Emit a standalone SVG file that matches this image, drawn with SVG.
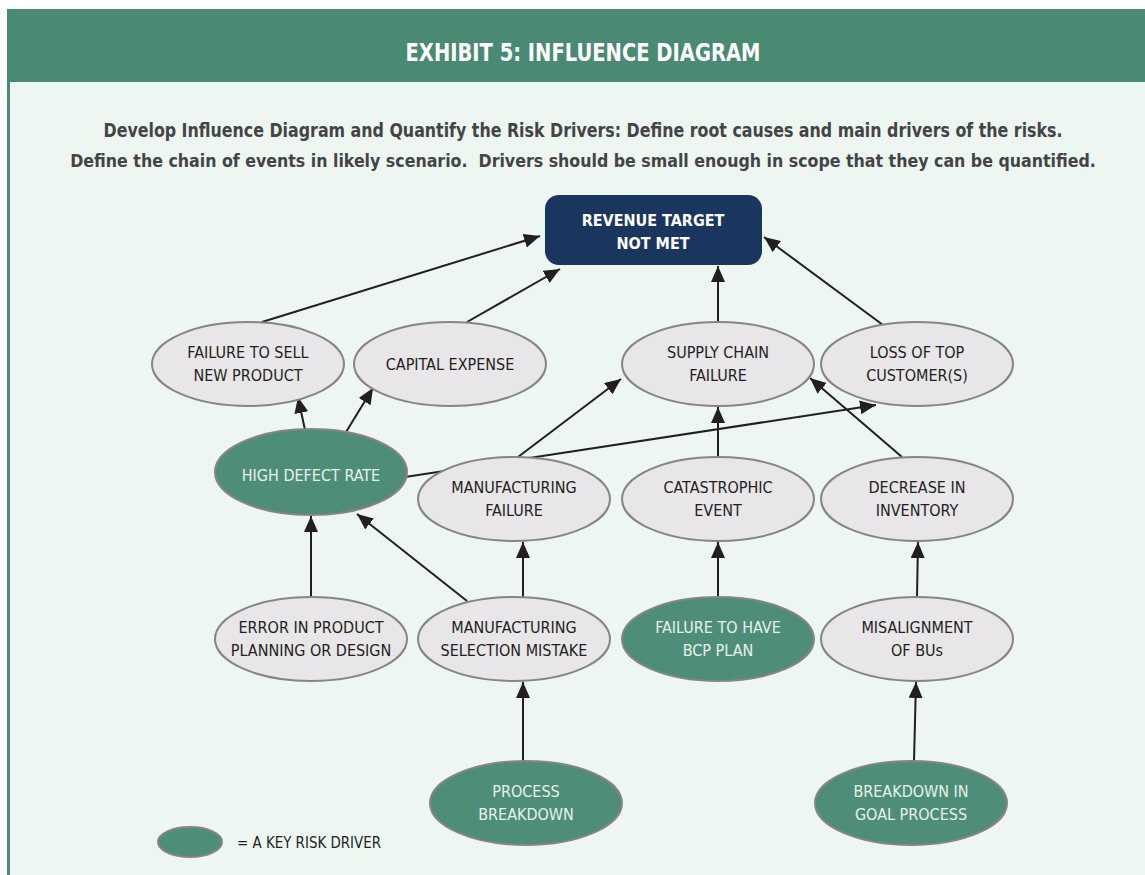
<svg xmlns="http://www.w3.org/2000/svg" width="1145" height="875" viewBox="0 0 1145 875">
<defs>
<style>
.nd{fill:#E8E6E8;stroke:#858585;stroke-width:2}
.key{fill:#4E8E78;stroke:#858585;stroke-width:2}
.t{font-family:"DejaVu Sans Condensed","DejaVu Sans",sans-serif;font-size:16px;fill:#231F20;text-anchor:middle}
.tk{font-family:"DejaVu Sans Condensed","DejaVu Sans",sans-serif;font-size:16px;fill:#E6F2EC;text-anchor:middle}
.e{stroke:#231F20;stroke-width:2;fill:none;marker-end:url(#ah)}
</style>
<marker id="ah" markerUnits="userSpaceOnUse" markerWidth="18" markerHeight="16" refX="16" refY="7" orient="auto">
<path d="M0,0 L16,7 L0,14 z" fill="#231F20"/>
</marker>
</defs>
<rect width="1145" height="875" fill="#FFFFFF"/>
<rect x="7" y="9" width="1138" height="866" fill="#EDF6F1"/>
<rect x="7" y="82" width="3" height="793" fill="#4A8A72"/>
<rect x="7" y="9" width="1138" height="73" fill="#4A8A72"/>
<text x="583" y="61" font-family="DejaVu Sans Condensed,DejaVu Sans,sans-serif" font-size="25" font-weight="bold" fill="#FFFFFF" text-anchor="middle" textLength="355" lengthAdjust="spacingAndGlyphs">EXHIBIT 5: INFLUENCE DIAGRAM</text>
<text x="583" y="137" font-family="DejaVu Sans Condensed,DejaVu Sans,sans-serif" font-size="19" font-weight="bold" fill="#444446" text-anchor="middle" textLength="959" lengthAdjust="spacingAndGlyphs">Develop Influence Diagram and Quantify the Risk Drivers: Define root causes and main drivers of the risks.</text>
<text x="583" y="167" font-family="DejaVu Sans Condensed,DejaVu Sans,sans-serif" font-size="17.6" font-weight="bold" fill="#444446" text-anchor="middle" xml:space="preserve">Define the chain of events in likely scenario.  Drivers should be small enough in scope that they can be quantified.</text>

<g id="connectors">
<line class="e" x1="262" y1="322" x2="540" y2="236"/>
<line class="e" x1="467" y1="322" x2="560" y2="269"/>
<line class="e" x1="718" y1="322" x2="718" y2="266"/>
<line class="e" x1="883" y1="325" x2="764" y2="237"/>
<line class="e" x1="305" y1="430" x2="298" y2="397"/>
<line class="e" x1="346" y1="432" x2="373" y2="388"/>
<line class="e" x1="405" y1="477" x2="876" y2="405"/>
<line class="e" x1="518" y1="457" x2="621" y2="379"/>
<line class="e" x1="718" y1="457" x2="718" y2="407"/>
<line class="e" x1="902" y1="457" x2="810" y2="378"/>
<line class="e" x1="311" y1="597" x2="311" y2="516"/>
<line class="e" x1="467" y1="601" x2="357" y2="514"/>
<line class="e" x1="523" y1="597" x2="523" y2="542"/>
<line class="e" x1="718" y1="597" x2="718" y2="542"/>
<line class="e" x1="917" y1="597" x2="918" y2="542"/>
<line class="e" x1="523" y1="761" x2="523" y2="682"/>
<line class="e" x1="914" y1="761" x2="916" y2="682"/>
</g>

<g id="revenue">
<rect x="545" y="195" width="217" height="70" rx="14" fill="#1A365E"/>
<text x="653" y="226" font-family="DejaVu Sans Condensed,DejaVu Sans,sans-serif" font-size="16" font-weight="bold" fill="#FFFFFF" text-anchor="middle">REVENUE TARGET</text>
<text x="653" y="249" font-family="DejaVu Sans Condensed,DejaVu Sans,sans-serif" font-size="16" font-weight="bold" fill="#FFFFFF" text-anchor="middle">NOT MET</text>
</g>
<g id="failure-to-sell">
<ellipse class="nd" cx="248" cy="364" rx="96" ry="42"/>
<text class="t" x="248" y="358">FAILURE TO SELL</text>
<text class="t" x="248" y="381">NEW PRODUCT</text>
</g>
<g id="capital-expense">
<ellipse class="nd" cx="450" cy="364" rx="96" ry="42"/>
<text class="t" x="450" y="370">CAPITAL EXPENSE</text>
</g>
<g id="supply-chain">
<ellipse class="nd" cx="718" cy="364" rx="96" ry="42"/>
<text class="t" x="718" y="358">SUPPLY CHAIN</text>
<text class="t" x="718" y="381">FAILURE</text>
</g>
<g id="loss-of-customer">
<ellipse class="nd" cx="917" cy="364" rx="96" ry="42"/>
<text class="t" x="917" y="358">LOSS OF TOP</text>
<text class="t" x="917" y="381">CUSTOMER(S)</text>
</g>
<g id="high-defect">
<ellipse class="key" cx="311" cy="472" rx="96" ry="43"/>
<text class="tk" x="311" y="481">HIGH DEFECT RATE</text>
</g>
<g id="manufacturing-failure">
<ellipse class="nd" cx="514" cy="499" rx="96" ry="42"/>
<text class="t" x="514" y="493">MANUFACTURING</text>
<text class="t" x="514" y="516">FAILURE</text>
</g>
<g id="catastrophic">
<ellipse class="nd" cx="718" cy="499" rx="96" ry="42"/>
<text class="t" x="718" y="493">CATASTROPHIC</text>
<text class="t" x="718" y="516">EVENT</text>
</g>
<g id="decrease-inventory">
<ellipse class="nd" cx="917" cy="499" rx="96" ry="42"/>
<text class="t" x="917" y="493">DECREASE IN</text>
<text class="t" x="917" y="516">INVENTORY</text>
</g>
<g id="error-planning">
<ellipse class="nd" cx="311" cy="639" rx="96" ry="42"/>
<text class="t" x="311" y="633">ERROR IN PRODUCT</text>
<text class="t" x="311" y="656">PLANNING OR DESIGN</text>
</g>
<g id="selection-mistake">
<ellipse class="nd" cx="514" cy="639" rx="96" ry="42"/>
<text class="t" x="514" y="633">MANUFACTURING</text>
<text class="t" x="514" y="656">SELECTION MISTAKE</text>
</g>
<g id="bcp-plan">
<ellipse class="key" cx="718" cy="639" rx="96" ry="42"/>
<text class="tk" x="718" y="633">FAILURE TO HAVE</text>
<text class="tk" x="718" y="656">BCP PLAN</text>
</g>
<g id="misalignment">
<ellipse class="nd" cx="917" cy="639" rx="96" ry="42"/>
<text class="t" x="917" y="633">MISALIGNMENT</text>
<text class="t" x="917" y="656">OF BUs</text>
</g>
<g id="process-breakdown">
<ellipse class="key" cx="526" cy="803" rx="96" ry="42"/>
<text class="tk" x="526" y="797">PROCESS</text>
<text class="tk" x="526" y="820">BREAKDOWN</text>
</g>
<g id="goal-process">
<ellipse class="key" cx="911" cy="803" rx="96" ry="42"/>
<text class="tk" x="911" y="797">BREAKDOWN IN</text>
<text class="tk" x="911" y="820">GOAL PROCESS</text>
</g>
<g id="legend">
<ellipse class="key" cx="190" cy="842" rx="32" ry="15"/>
<text x="237" y="848" font-family="DejaVu Sans Condensed,DejaVu Sans,sans-serif" font-size="16" fill="#231F20" textLength="144" lengthAdjust="spacingAndGlyphs">= A KEY RISK DRIVER</text>
</g>
</svg>
